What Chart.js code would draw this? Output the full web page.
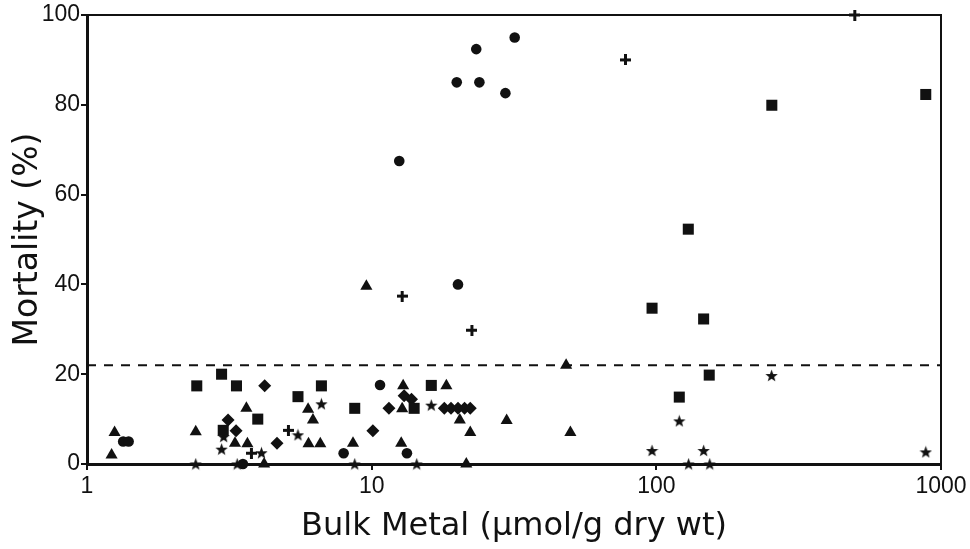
<!DOCTYPE html>
<html>
<head>
<meta charset="utf-8">
<script src="https://cdn.jsdelivr.net/npm/chart.js@4/dist/chart.umd.min.js"></script>
<style>
  html, body { margin: 0; padding: 0; background: #fff; }
</style>
</head>
<body>
<canvas id="canvas" width="970" height="549"></canvas>
<script>
// bulk metal (umol/g dry wt) and mortality (%) per symbol
const circleMetal = [1.34, 1.40, 3.53, 7.97, 10.7, 13.3, 12.5, 20.1, 19.9, 23.9, 23.3, 31.8, 29.5];
const circleMort  = [5, 5, 0, 2.4, 17.6, 2.4, 67.5, 40, 85, 85, 92.4, 95, 82.6];

const triMetal = [1.25, 1.22, 2.41, 3.31, 3.63, 3.66, 4.19, 5.98, 6.22, 6.0, 6.6, 8.6, 9.58, 12.8, 12.9, 12.7, 18.3, 20.4, 22.2, 21.5, 29.8, 48.2, 49.9];
const triMort  = [7, 2, 7.2, 4.6, 12.4, 4.5, 0, 12.2, 9.8, 4.5, 4.5, 4.6, 39.6, 12.3, 17.4, 4.6, 17.4, 9.8, 7, 0, 9.7, 22, 7];

const squareMetal = [2.43, 2.97, 3.35, 3.01, 3.98, 5.51, 6.66, 8.72, 14.1, 16.2, 96.6, 146.6, 153.4, 120.4, 129.5, 254.5, 884];
const squareMort  = [17.4, 20, 17.4, 7.5, 10, 15, 17.4, 12.4, 12.4, 17.5, 34.7, 32.3, 19.8, 14.9, 52.3, 79.9, 82.3];

const diamondMetal = [3.13, 3.34, 4.21, 4.65, 10.1, 11.5, 13.0, 13.8, 18.0, 19.0, 20.1, 21.2, 22.2];
const diamondMort  = [9.8, 7.4, 17.4, 4.6, 7.4, 12.4, 15.2, 14.4, 12.4, 12.4, 12.4, 12.4, 12.4];

const starMetal = [2.41, 2.97, 3.02, 3.37, 4.1, 5.51, 6.66, 8.72, 14.4, 16.2, 96.6, 120.4, 129.8, 146.6, 154, 254, 884];
const starMort  = [0, 3.3, 6.1, 0, 2.5, 6.5, 13.4, 0, 0, 13.1, 3, 9.6, 0, 3, 0, 19.7, 2.7];

const plusMetal = [3.78, 5.1, 12.8, 22.5, 77.9, 498];
const plusMort  = [2.4, 7.5, 37.4, 29.8, 90, 100];

const cutoffMetal = [1, 1000];
const cutoffMort  = [22, 22];

const xTickValues = [1, 10, 100, 1000];

const ink = '#111';

function pairs(xs, ys) {
  return xs.map((x, i) => ({ x: x, y: ys[i] }));
}

// filled five point star
function starImage(size) {
  const c = document.createElement('canvas');
  c.width = size; c.height = size;
  const g = c.getContext('2d');
  const cx = size / 2, cy = size / 2 + 0.6, ro = size / 2, ri = ro * 0.42;
  g.beginPath();
  for (let i = 0; i < 10; i++) {
    const r = i % 2 ? ri : ro;
    const a = -Math.PI / 2 + i * Math.PI / 5;
    g.lineTo(cx + r * Math.cos(a), cy + r * Math.sin(a));
  }
  g.closePath();
  g.fillStyle = ink;
  g.fill();
  return c;
}

// bold plus sign
function plusImage(size, thick) {
  const c = document.createElement('canvas');
  c.width = size; c.height = size;
  const g = c.getContext('2d');
  g.fillStyle = ink;
  const m = (size - thick) / 2;
  g.fillRect(m, 0, thick, size);
  g.fillRect(0, m, size, thick);
  return c;
}

const frame = {
  id: 'frame',
  afterDraw(chart) {
    const a = chart.chartArea, ctx = chart.ctx;
    ctx.save();
    ctx.strokeStyle = ink;
    ctx.lineWidth = 2;
    ctx.beginPath();
    ctx.moveTo(a.left, a.top);
    ctx.lineTo(a.right, a.top);
    ctx.lineTo(a.right, a.bottom);
    ctx.stroke();
    ctx.restore();
  }
};

function create() {
  const font = { family: 'Liberation Sans', size: 23 };

  const pt = (label, xs, ys, style, radius) => ({
    label: label,
    data: pairs(xs, ys),
    pointStyle: style,
    pointRadius: radius,
    pointBackgroundColor: ink,
    pointBorderColor: ink,
    pointBorderWidth: 0,
    showLine: false,
    clip: false
  });

  const data = {
    datasets: [
      pt('circle', circleMetal, circleMort, 'circle', 5.3),
      pt('square', squareMetal, squareMort, 'rect', 7.8),
      pt('triangle', triMetal, triMort, 'triangle', 7),
      pt('diamond', diamondMetal, diamondMort, 'rectRot', 6.5),
      pt('star', starMetal, starMort, starImage(13), 7),
      pt('plus', plusMetal, plusMort, plusImage(11, 3), 6),
      {
        label: 'cutoff',
        data: pairs(cutoffMetal, cutoffMort),
        showLine: true,
        borderColor: ink,
        borderWidth: 2,
        borderDash: [9, 8],
        pointRadius: 0
      }
    ]
  };

  const config = {
    type: 'scatter',
    data: data,
    options: {
      responsive: false,
      animation: false,
      devicePixelRatio: 1,
      layout: { padding: { left: 0, right: 29, top: 15, bottom: 0 } },
      plugins: { legend: { display: false }, tooltip: { enabled: false } },
      scales: {
        x: {
          type: 'logarithmic',
          min: 1,
          max: 1000,
          afterBuildTicks: s => { s.ticks = xTickValues.map(v => ({ value: v })); },
          afterFit: s => { s.height = 85; },
          ticks: {
            callback: v => String(v),
            font: font,
            color: ink,
            padding: 3,
            maxRotation: 0,
            autoSkip: false
          },
          grid: { drawOnChartArea: false, tickLength: 6, color: ink, lineWidth: 2 },
          border: { display: true, color: ink, width: 3 },
          title: {
            display: true,
            text: 'Bulk Metal (µmol/g dry wt)',
            font: { family: 'DejaVu Sans', size: 32 },
            color: ink,
            padding: { top: 0, bottom: 3 }
          }
        },
        y: {
          type: 'linear',
          min: 0,
          max: 100,
          afterFit: s => { s.width = 87; },
          ticks: { stepSize: 20, font: font, color: ink, padding: 1 },
          grid: { drawOnChartArea: false, tickLength: 6, color: ink, lineWidth: 2 },
          border: { display: true, color: ink, width: 3 },
          title: {
            display: true,
            text: 'Mortality (%)',
            font: { family: 'DejaVu Sans', size: 33 },
            color: ink,
            padding: { top: 9, bottom: 0 }
          }
        }
      }
    },
    plugins: [frame]
  };

  const canvas = document.getElementById('canvas');
  new Chart(canvas, config);
}

create();
</script>
</body>
</html>
